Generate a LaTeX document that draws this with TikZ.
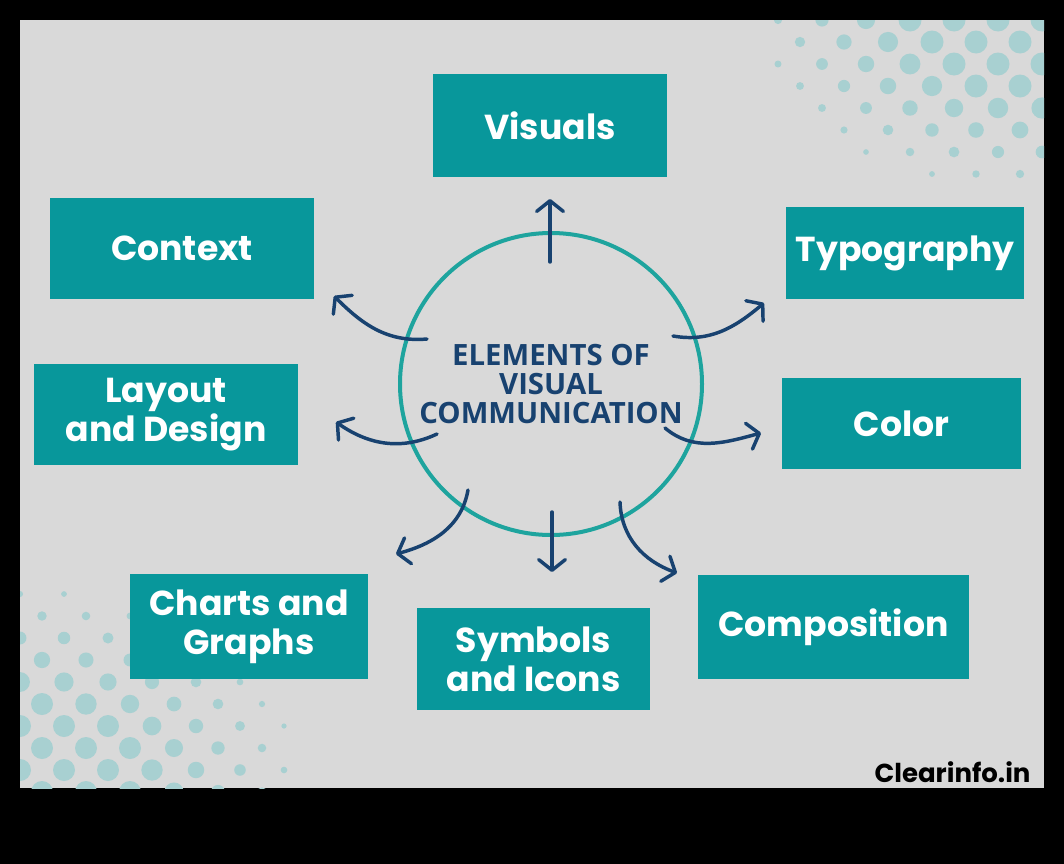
\documentclass[tikz,border=0pt]{standalone}
\usepackage{fontspec}
\setmainfont{Poppins}
\newfontfamily\hubfont{Open Sans}
\usetikzlibrary{arrows.meta}

\definecolor{panelgray}{RGB}{217,217,217}
\definecolor{boxteal}{RGB}{8,151,155}
\definecolor{ringteal}{RGB}{30,164,158}
\definecolor{arrowblue}{RGB}{24,66,112}
\definecolor{dotteal}{RGB}{168,208,209}

\tikzset{every picture/.style={line width=0.75pt}}
\tikzset{
  box/.style={fill=boxteal, text=white, inner sep=0pt, align=center,
    font=\bfseries\fontsize{26}{29}\selectfont},
  hub/.style={circle, draw=ringteal, line width=3pt, minimum size=226.5pt,
    inner sep=0pt, align=center, text=arrowblue,
    font=\hubfont\bfseries\fontsize{22}{22}\selectfont},
  spoke/.style={draw=arrowblue, line width=2.6pt, line cap=round,
    -{Straight Barb[length=8pt,width=20pt,round]}},
}

\begin{document}
\begin{tikzpicture}[x=0.75pt,y=0.75pt,yscale=-1,xscale=1]
%set diagram left start at 0, and has height of 864
\useasboundingbox (0,0) rectangle (1064,864);

% Background
\fill [black] (0,0) rectangle (1064,864);
\fill [panelgray] (20,20) rectangle (1044,788);

% Halftone dots
\begin{scope}
\clip (20,20) rectangle (1044,788);
\foreach \k in {0,...,8}{
  \foreach \j in {0,...,6}{
    \pgfmathsetmacro{\px}{778+44*\j+22*mod(\k,2)}
    \pgfmathsetmacro{\py}{20+22*\k}
    \pgfmathsetmacro{\rr}{min(11.5,3+(0.95-sqrt(((1044-\px)/300)^2+((\py-20)/175)^2))*17)}
    \ifdim\rr pt>2.5pt \fill [dotteal] (\px,\py) circle [radius=\rr]; \fi
  }
}
\foreach \k in {0,...,9}{
  \foreach \j in {0,...,7}{
    \pgfmathsetmacro{\px}{20+44*\j+22*mod(\k+1,2)}
    \pgfmathsetmacro{\py}{792-22*\k}
    \pgfmathsetmacro{\rr}{min(11,3+(0.95-sqrt(((\px-20)/285)^2+((788-\py)/205)^2))*16)}
    \ifdim\rr pt>2.5pt \fill [dotteal] (\px,\py) circle [radius=\rr]; \fi
  }
}
\end{scope}

% Text Node
\node [box, minimum width=175.5pt, minimum height=77.25pt] (visuals) at (550,125.5) {Visuals};
% Text Node
\node [box, minimum width=198pt, minimum height=75.75pt] (context) at (182,248.5) {Context};
% Text Node
\node [box, minimum width=178.5pt, minimum height=69pt] (typography) at (905,253) {Typography};
% Text Node
\node [box, minimum width=198pt, minimum height=75.75pt] (layout) at (166,414.5) {Layout\\and Design};
% Text Node
\node [box, minimum width=179.25pt, minimum height=68.25pt] (color) at (901.5,423.5) {Color};
% Text Node
\node [box, minimum width=178.5pt, minimum height=78.75pt] (charts) at (249,626.5) {Charts and\\Graphs};
% Text Node
\node [box, minimum width=174.75pt, minimum height=76.5pt] (symbols) at (533.5,659) {Symbols\\and Icons};
% Text Node
\node [box, minimum width=203.25pt, minimum height=78pt] (composition) at (833.5,627) {Composition};

% Circle Node
\node [hub] (hub) at (551,384) {ELEMENTS OF\\VISUAL\\COMMUNICATION};

% Text Node
\node [anchor=east, inner sep=0pt, font=\bfseries\fontsize{19.5}{21}\selectfont] (brand) at (1031,772) {Clearinfo.in};

% Arrow ends
\coordinate (s-vis) at (550,262);  \coordinate (e-vis) at (550,199);
\coordinate (s-ctx) at (427,339);  \coordinate (e-ctx) at (334,296);
\coordinate (s-lay) at (437,434);  \coordinate (e-lay) at (336,422);
\coordinate (s-typ) at (673,336);  \coordinate (e-typ) at (764,303);
\coordinate (s-col) at (665,428);  \coordinate (e-col) at (761,433);
\coordinate (s-cha) at (468,490);  \coordinate (e-cha) at (396,554);
\coordinate (s-sym) at (552,512);  \coordinate (e-sym) at (552,572);
\coordinate (s-com) at (620,502);  \coordinate (e-com) at (677,573);

% Connection
\draw [spoke] (s-vis) -- (e-vis);
% Connection
\draw [spoke] (s-ctx) to [out=175,in=45] (e-ctx);
% Connection
\draw [spoke] (s-lay) to [out=155,in=35] (e-lay);
% Connection
\draw [spoke] (s-typ) to [out=10,in=140] (e-typ);
% Connection
\draw [spoke] (s-col) to [out=40,in=165] (e-col);
% Connection
\draw [spoke] (s-cha) to [out=100,in=-15] (e-cha);
% Connection
\draw [spoke] (s-sym) -- (e-sym);
% Connection
\draw [spoke] (s-com) to [out=88,in=-160] (e-com);

\end{tikzpicture}
\end{document}
